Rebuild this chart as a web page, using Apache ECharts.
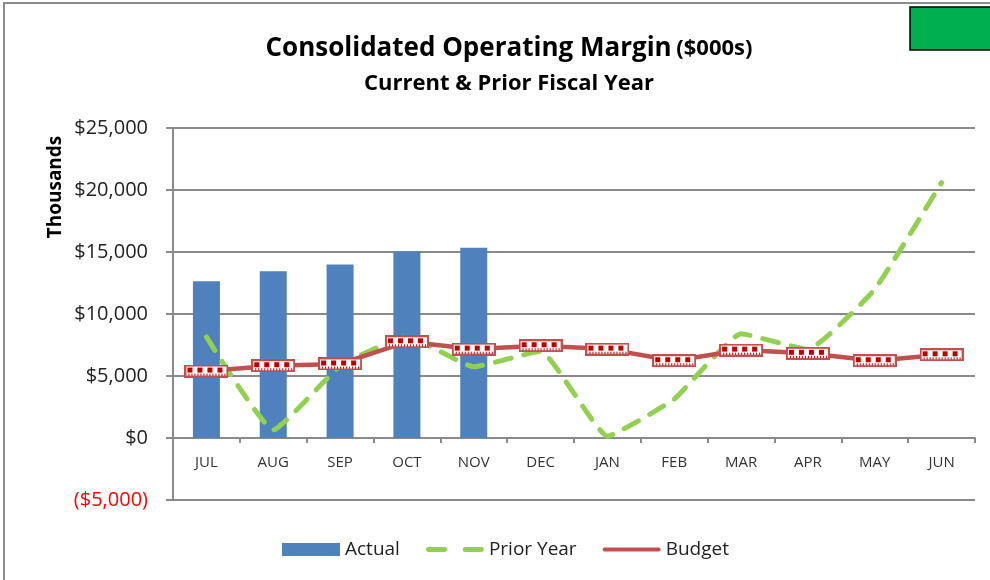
<!DOCTYPE html>
<html>
<head>
<meta charset="utf-8">
<title>Consolidated Operating Margin</title>
<script src="https://cdn.jsdelivr.net/npm/echarts@6/dist/echarts.min.js"></script>
<style>
  html, body { margin: 0; padding: 0; background: #fff; }
  #chart { width: 990px; height: 580px; }
</style>
</head>
<body>
<div id="chart"></div>
<script>
// values in $000s
const months = ['JUL', 'AUG', 'SEP', 'OCT', 'NOV', 'DEC', 'JAN', 'FEB', 'MAR', 'APR', 'MAY', 'JUN'];
const actual = [12650, 13450, 14000, 15050, 15350, null, null, null, null, null, null, null];
const priorYear = [8150, 650, 5800, 8200, 5750, 7000, 150, 3150, 8400, 7150, 12000, 20600];
const budget = [5400, 5830, 5970, 7760, 7170, 7440, 7170, 6230, 7090, 6830, 6230, 6710];
const yTicks = { min: -5000, max: 25000, step: 5000 };

const FONT = '"Open Sans", "Noto Sans", sans-serif';

// grid sizes, so the category axis can sit on the zero line
const gridTop = 128, gridBottom = 80;
const plotH = 580 - gridTop - gridBottom;
const zeroOffset = plotH * (0 - yTicks.min) / (yTicks.max - yTicks.min);

// the Excel style budget marker, drawn once on a canvas
function budgetMarker() {
  const c = document.createElement('canvas');
  c.width = 44; c.height = 13;
  const g = c.getContext('2d');
  g.fillStyle = '#ffffff';
  g.fillRect(0, 0, 44, 13);
  g.strokeStyle = '#C0504D';
  g.lineWidth = 2;
  g.strokeRect(1, 1, 42, 11);
  g.fillStyle = '#C00000';
  for (let i = 0; i < 4; i++) {
    g.fillRect(3 + i * 10, 3, 5, 5);
  }
  for (let x = 4; x < 41; x += 3) {
    g.fillRect(x, 9, 1, 2);
  }
  return 'image://' + c.toDataURL();
}

function money(v) {
  const s = '$' + Math.abs(v).toLocaleString('en-US');
  return v < 0 ? '(' + s + ')' : s;
}

// legend icons: tiny corner dots keep the box at 60x13 so the strokes keep their size
const box = 'M0,0h0.05v0.05h-0.05Z M59.95,12.95h0.05v0.05h-0.05Z ';
const dashIcon = 'path://' + box +
  'M2.5,4h17a2.5,2.5 0 0 1 0,5h-17a2.5,2.5 0 0 1 0,-5Z ' +
  'M40.5,4h17a2.5,2.5 0 0 1 0,5h-17a2.5,2.5 0 0 1 0,-5Z';
const budgetIcon = 'path://' + box +
  'M2,4.5h56a2,2 0 0 1 0,4h-56a2,2 0 0 1 0,-4Z';

const chart = echarts.init(document.getElementById('chart'));

chart.setOption({
  backgroundColor: '#fff',
  animation: false,
  textStyle: { fontFamily: FONT },
  title: [
    {
      text: '{a|Consolidated Operating Margin} {b|($000s)}',
      left: 504, top: 31, textAlign: 'center',
      textStyle: {
        rich: {
          a: { fontFamily: FONT, fontSize: 26, fontWeight: 'bold', color: '#000' },
          b: { fontFamily: FONT, fontSize: 22, fontWeight: 'bold', color: '#000' }
        }
      }
    },
    {
      text: 'Current & Prior Fiscal Year',
      left: 504, top: 68, textAlign: 'center',
      textStyle: { fontFamily: FONT, fontSize: 22, fontWeight: 'bold', color: '#000' }
    }
  ],
  graphic: [
    {
      type: 'rect', silent: true, z: -1,
      shape: { x: 4, y: 3, width: 1000, height: 600 },
      style: { fill: 'none', stroke: '#8a8a8a', lineWidth: 2 }
    },
    {
      type: 'rect', silent: true,
      shape: { x: 910, y: 7, width: 90, height: 43 },
      style: { fill: '#00B050', stroke: '#000', lineWidth: 1.5 }
    },
    {
      type: 'text', silent: true,
      x: 56, y: 187, rotation: Math.PI / 2,
      style: {
        text: 'Thousands', fontFamily: FONT, fontSize: 19, fontWeight: 'bold',
        fill: '#000', align: 'center', verticalAlign: 'middle'
      }
    }
  ],
  legend: {
    bottom: 16, left: 277,
    itemWidth: 58, itemHeight: 13, itemGap: 26,
    textStyle: { fontFamily: FONT, fontSize: 19, color: '#222' },
    data: [
      { name: 'Actual', icon: 'rect' },
      { name: 'Prior Year', icon: dashIcon },
      { name: 'Budget', icon: budgetIcon }
    ]
  },
  grid: { left: 173, right: 15, top: gridTop, bottom: gridBottom },
  xAxis: {
    type: 'category',
    data: months,
    boundaryGap: true,
    offset: -zeroOffset,
    axisLine: { onZero: false, lineStyle: { color: '#8a8a8a', width: 2 } },
    axisTick: { show: true, length: 5, lineStyle: { color: '#8a8a8a', width: 2 } },
    axisLabel: { fontFamily: FONT, fontSize: 15, color: '#333', margin: 17 }
  },
  yAxis: {
    type: 'value',
    min: yTicks.min, max: yTicks.max, interval: yTicks.step,
    axisLine: { show: true, lineStyle: { color: '#8a8a8a', width: 2 } },
    axisTick: { show: true, length: 7, lineStyle: { color: '#8a8a8a', width: 2 } },
    splitLine: { show: true, lineStyle: { color: '#8a8a8a', width: 2 } },
    axisLabel: {
      fontFamily: FONT, fontSize: 20, margin: 25,
      formatter: money,
      color: (v) => (Number(v) < 0 ? '#FF0000' : '#222')
    }
  },
  series: [
    {
      name: 'Actual',
      type: 'bar',
      data: actual,
      barWidth: 27,
      itemStyle: { color: '#4F81BD' },
      z: 1
    },
    {
      name: 'Prior Year',
      type: 'line',
      data: priorYear,
      smooth: 0.12,
      symbol: 'none',
      lineStyle: { color: '#92D050', width: 5, type: [16, 13], cap: 'round' },
      itemStyle: { color: '#92D050' },
      z: 2
    },
    {
      name: 'Budget',
      type: 'line',
      data: budget,
      symbol: budgetMarker(),
      symbolSize: [44, 13],
      lineStyle: { color: '#C0504D', width: 4.5 },
      itemStyle: { color: '#C0504D' },
      z: 3
    }
  ]
});
</script>
</body>
</html>
